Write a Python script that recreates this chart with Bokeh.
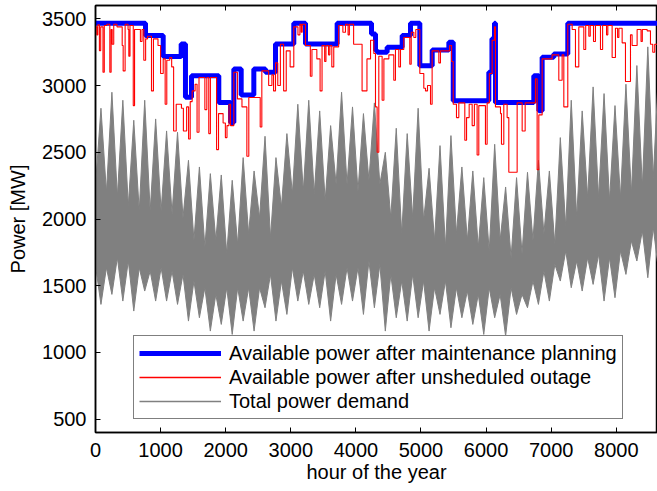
from bokeh.plotting import figure
from bokeh.models import Range1d, FixedTicker, LinearAxis, Legend, LegendItem, CustomJSTickFormatter
from bokeh.embed import file_html
from bokeh.resources import INLINE

# ---------------- data ----------------
# Available power after maintenance planning: step levels (hour where level starts, MW)
maint_hour = [0, 768, 1040, 1316, 1382, 1475, 1894, 2074, 2125, 2238, 2432, 2611, 2765,
              3046, 3226, 3712, 4240, 4301, 4327, 4480, 4711, 4839, 4982, 5172, 5428,
              5495, 6042, 6090, 6129, 6144, 6733, 6810, 6861, 7040, 7255, 8700]
maint_mw = [3467, 3375, 3217, 3312, 2912, 3074, 2874, 2724, 3125, 2929, 3125, 3100, 3312,
            3467, 3312, 3467, 3387, 3262, 3249, 3287, 3375, 3467, 3149, 3267, 3324,
            2887, 3100, 3350, 3467, 2874, 3074, 2812, 3212, 3237, 3467, 3467]

# Available power after unscheduled outage (hour where value starts, MW)
outage_hour = [
    0, 20, 35, 60, 80, 115, 135, 175, 220, 240,
    256, 280, 330, 410, 425, 455, 500, 512, 530, 580,
    600, 690, 715, 742, 770, 800, 860, 890, 960, 1000,
    1040, 1070, 1095, 1140, 1170, 1200, 1240, 1320, 1350, 1400,
    1430, 1455, 1485, 1530, 1560, 1590, 1680, 1710, 1740, 1765,
    1860, 1890, 1960, 1995, 2020, 2050, 2074, 2125, 2180, 2250,
    2325, 2355, 2440, 2530, 2555, 2660, 2710, 2735, 2765, 2800,
    2840, 2890, 2930, 2990, 3046, 3110, 3140, 3160, 3175, 3226,
    3300, 3325, 3400, 3450, 3480, 3520, 3540, 3580, 3600, 3630,
    3660, 3735, 3800, 3840, 3880, 3900, 3965, 4095, 4170, 4225,
    4275, 4301, 4326, 4352, 4403, 4430, 4506, 4582, 4608, 4659,
    4685, 4736, 4828, 4850, 4890, 4920, 4982, 5043, 5069, 5100,
    5146, 5171, 5274, 5299, 5440, 5470, 5495, 5545, 5581, 5673,
    5700, 5740, 5786, 5820, 5862, 5888, 5990, 6016, 6050, 6093,
    6129, 6144, 6221, 6236, 6272, 6323, 6349, 6477, 6554, 6600,
    6758, 6784, 6810, 6861, 7014, 7117, 7168, 7194, 7255, 7322,
    7373, 7424, 7501, 7530, 7578, 7600, 7650, 7680, 7757, 7790,
    7850, 7870, 7936, 7987, 8020, 8040, 8090, 8141, 8218, 8243,
    8320, 8380, 8400, 8474, 8525, 8560, 8590, 8700]
outage_mw = [
    3440, 3380, 3455, 3262, 3440, 3100, 3450, 3460, 3100, 3420,
    3310, 3460, 3440, 3300, 3110, 3460, 3420, 3220, 3450, 2850,
    3420, 3330, 3420, 3190, 3350, 3370, 2960, 3350, 3300, 3090,
    3200, 2860, 3190, 3210, 3140, 2660, 2860, 2830, 2660, 2840,
    2600, 2880, 2960, 3010, 2650, 3060, 2820, 3060, 2640, 3060,
    2520, 2790, 2720, 2610, 2700, 2860, 2700, 3100, 2900, 2840,
    2470, 2910, 2910, 2690, 3110, 3000, 3080, 2960, 3170, 3000,
    3310, 2960, 3260, 3140, 3440, 3380, 3460, 3400, 3460, 3300,
    3070, 3270, 3200, 2960, 3300, 3180, 3300, 3230, 3300, 3140,
    3290, 3450, 3400, 3460, 3380, 3460, 3310, 2960, 3200, 3340,
    3240, 2840, 2500, 3220, 2890, 3200, 3230, 3040, 3270, 3140,
    3270, 3360, 3160, 3400, 3360, 3420, 3090, 2980, 2960, 3000,
    2860, 3260, 3170, 3260, 3300, 3180, 2860, 2760, 2870, 2590,
    2760, 2860, 2700, 2860, 2480, 2850, 2560, 2870, 3090, 3340,
    3440, 2840, 2790, 2560, 2860, 2760, 2350, 2870, 2660, 2870,
    3050, 2370, 2780, 3200, 3230, 3040, 3230, 2840, 3460, 3420,
    3140, 3440, 3270, 3450, 3370, 3450, 3330, 3450, 3270, 3450,
    3380, 3450, 3210, 3430, 3360, 3430, 3320, 3030, 3380, 3300,
    3420, 3330, 3420, 3410, 3310, 3250, 3310, 3310]

# Total power demand: weekly envelope values (MW), one value per week
demand_week_peak = [2830, 2950, 2890, 2740, 2890, 2750, 2660, 2650, 2440, 2390,
                    2340, 2330, 2290, 2460, 2360, 2620, 2460, 2640, 2860, 2890,
                    2810, 2700, 2950, 2840, 2790, 2870, 2500, 2680, 2640, 2830,
                    2380, 2550, 2625, 2390, 2360, 2310, 2560, 2240, 2310, 2350,
                    2440, 2360, 2610, 2890, 2810, 2990, 2940, 2850, 3010, 3150,
                    3290, 3140]
demand_week_valley = [2250, 2200, 2170, 2100, 2060, 2060, 2060, 2040, 2010, 1840,
                      1790, 1840, 1740, 1810, 1890, 2010, 1860, 2090, 2190, 2210,
                      2190, 2140, 2260, 2260, 2210, 2290, 2260, 2010, 1890, 2010,
                      1990, 1840, 1790, 1890, 1840, 1790, 1760, 1840, 1710, 1740,
                      1840, 1890, 1810, 1940, 2010, 2160, 2160, 2140, 2160, 2190,
                      2240, 2310]
demand_week_crest = [1650, 1635, 1710, 1685, 1635, 1610, 1635, 1610, 1585, 1535,
                     1485, 1435, 1485, 1485, 1485, 1485, 1585, 1535, 1635, 1610,
                     1585, 1610, 1585, 1635, 1635, 1685, 1660, 1585, 1535, 1585,
                     1535, 1485, 1535, 1485, 1460, 1435, 1485, 1435, 1485, 1435,
                     1535, 1610, 1660, 1760, 1685, 1710, 1735, 1710, 1760, 1836,
                     1911, 1936]
demand_week_trough = [1360, 1435, 1385, 1310, 1460, 1385, 1385, 1360, 1235, 1260,
                      1160, 1210, 1135, 1235, 1160, 1335, 1235, 1285, 1385, 1360,
                      1335, 1235, 1360, 1385, 1285, 1335, 1160, 1260, 1235, 1260,
                      1160, 1285, 1185, 1260, 1210, 1135, 1260, 1122, 1285, 1335,
                      1360, 1385, 1535, 1485, 1460, 1510, 1385, 1410, 1585, 1685,
                      1560, 1600]
hours_per_week = 168

x_ticks = [0, 1000, 2000, 3000, 4000, 5000, 6000, 7000, 8000]
y_ticks = [500, 1000, 1500, 2000, 2500, 3000, 3500]

# ---------------- build ----------------
FONT = "Liberation Sans"
BLUE, RED, GRAY = "#0000ff", "#ff0000", "#808080"
NAN = float("nan")

p = figure(width=657, height=491, output_backend="svg", toolbar_location=None,
           x_range=Range1d(0, 8633), y_range=Range1d(400, 3600),
           min_border_left=95, min_border_right=0, min_border_top=5, min_border_bottom=59)
p.background_fill_color = "white"
p.border_fill_color = "white"
p.outline_line_color = "black"
p.outline_line_width = 1.5
p.xgrid.visible = False
p.ygrid.visible = False

gx, gtop, gbot = [], [], []
for w in range(len(demand_week_peak)):
    gx += [w * hours_per_week, w * hours_per_week + hours_per_week // 2]
    gtop += [demand_week_valley[w], demand_week_peak[w]]
    gbot += [demand_week_crest[w], demand_week_trough[w]]
p.varea(x=gx, y1=gbot, y2=gtop, fill_color=GRAY, fill_alpha=1.0)
p.line(gx, gtop, line_color=GRAY, line_width=1)
p.line(gx, gbot, line_color=GRAY, line_width=1)

p.step(maint_hour, maint_mw, mode="after", line_color=BLUE, line_width=5)
p.step(outage_hour, outage_mw, mode="after", line_color=RED, line_width=1.1)

# legend samples only
leg_blue = p.line(x=[NAN], y=[NAN], line_color=BLUE, line_width=5)
leg_red = p.line(x=[NAN], y=[NAN], line_color=RED, line_width=1.6)
leg_gray = p.line(x=[NAN], y=[NAN], line_color=GRAY, line_width=1.6)

for ax in (p.xaxis[0], p.yaxis[0]):
    ax.major_tick_in = 5
    ax.major_tick_out = 0
    ax.minor_tick_in = 0
    ax.minor_tick_out = 0
    ax.axis_line_width = 1.5
    ax.major_tick_line_width = 1
    ax.major_label_text_font = FONT
    ax.major_label_text_font_size = "20px"
    ax.major_label_text_color = "black"
    ax.axis_label_text_font = FONT
    ax.axis_label_text_font_size = "20px"
    ax.axis_label_text_font_style = "normal"
    ax.axis_label_text_color = "black"

p.xaxis[0].ticker = FixedTicker(ticks=x_ticks)
p.yaxis[0].ticker = FixedTicker(ticks=y_ticks)
p.xaxis[0].axis_label = "hour of the year"
p.yaxis[0].axis_label = "Power [MW]"
p.xaxis[0].major_label_standoff = 10
p.xaxis[0].axis_label_standoff = 1
p.yaxis[0].major_label_standoff = 9
p.yaxis[0].axis_label_standoff = 10

top = LinearAxis(ticker=FixedTicker(ticks=x_ticks), major_tick_in=5, major_tick_out=0,
                 minor_tick_in=0, minor_tick_out=0,
                 formatter=CustomJSTickFormatter(code="return ''"),
                 major_label_standoff=0, axis_line_width=1.5)
p.add_layout(top, "above")

legend = Legend(items=[
    LegendItem(label="Available power after maintenance planning", renderers=[leg_blue]),
    LegendItem(label="Available power after unsheduled outage", renderers=[leg_red]),
    LegendItem(label="Total power demand", renderers=[leg_gray]),
], location=(38, 13))
legend.label_text_font = FONT
legend.label_text_font_size = "20px"
legend.label_text_color = "black"
legend.padding = 5
legend.spacing = 0
legend.margin = 0
legend.label_height = 24
legend.glyph_height = 24
legend.glyph_width = 82
legend.label_standoff = 8
legend.border_line_color = "black"
legend.border_line_width = 1.5
legend.background_fill_color = "white"
legend.background_fill_alpha = 1.0
p.add_layout(legend)

open("out.html", "w").write(file_html(p, INLINE))
